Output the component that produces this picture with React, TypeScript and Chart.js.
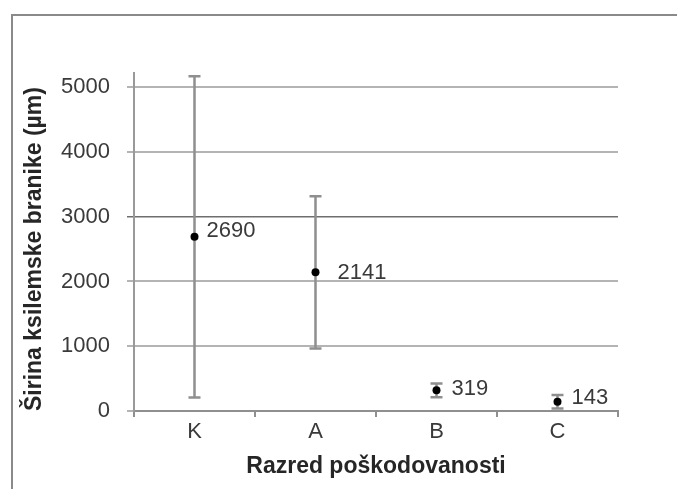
import React, { useEffect, useRef } from 'react';
import { Chart, registerables } from 'chart.js';

Chart.register(...registerables);

const categories = ['K', 'A', 'B', 'C'];
const means = [2690, 2141, 319, 143];
const errors = [2480, 1175, 105, 105];
const yTickValues = [0, 1000, 2000, 3000, 4000, 5000];
const yMax = 5220;
const labelOffsets = [[12, -6], [22, 1], [15, -1], [14, -4]];

const FONT = '"Liberation Sans", Arial, sans-serif';

const errorBarPlugin = {
  id: 'errorBars',
  beforeDatasetsDraw(chart: any) {
    const { ctx } = chart;
    const y = chart.scales.y;
    const meta = chart.getDatasetMeta(0);
    ctx.save();
    ctx.strokeStyle = '#8f8f8f';
    ctx.lineWidth = 2.5;
    meta.data.forEach((pt: any, i: number) => {
      const x = pt.x;
      const top = y.getPixelForValue(means[i] + errors[i]);
      const bot = y.getPixelForValue(means[i] - errors[i]);
      ctx.beginPath();
      ctx.moveTo(x, top);
      ctx.lineTo(x, bot);
      ctx.moveTo(x - 6, top);
      ctx.lineTo(x + 6, top);
      ctx.moveTo(x - 6, bot);
      ctx.lineTo(x + 6, bot);
      ctx.stroke();
    });
    ctx.restore();
  },
};

const dataLabelPlugin = {
  id: 'dataLabels',
  afterDatasetsDraw(chart: any) {
    const { ctx } = chart;
    const meta = chart.getDatasetMeta(0);
    ctx.save();
    ctx.fillStyle = '#3a3a3a';
    ctx.font = `22px ${FONT}`;
    ctx.textAlign = 'left';
    ctx.textBaseline = 'middle';
    meta.data.forEach((pt: any, i: number) => {
      const [dx, dy] = labelOffsets[i];
      ctx.fillText(String(means[i]), pt.x + dx, pt.y + dy);
    });
    ctx.restore();
  },
};

export default function App() {
  const ref = useRef<HTMLCanvasElement | null>(null);

  useEffect(() => {
    if (!ref.current) return;
    const chart = new Chart(ref.current, {
      type: 'line',
      data: {
        labels: categories,
        datasets: [
          {
            data: means,
            showLine: false,
            pointRadius: 4,
            pointBackgroundColor: '#000',
            pointBorderColor: '#000',
            pointBorderWidth: 0,
          },
        ],
      },
      options: {
        animation: false,
        responsive: false,
        devicePixelRatio: 1,
        layout: { padding: { left: 0, top: 73, right: 59, bottom: 0 } },
        plugins: {
          legend: { display: false },
          tooltip: { enabled: false },
        },
        scales: {
          x: {
            type: 'category',
            offset: true,
            grid: {
              offset: true,
              drawOnChartArea: false,
              tickLength: 6,
              color: '#8f8f8f',
              lineWidth: 2,
            },
            border: { color: '#8f8f8f', width: 2 },
            ticks: {
              color: '#3a3a3a',
              font: { family: FONT, size: 22 },
              padding: 2,
            },
            title: {
              display: true,
              text: 'Razred poškodovanosti',
              color: '#262626',
              font: { family: FONT, size: 23, weight: 'bold' },
              padding: { top: 0, bottom: 9 },
            },
            afterFit: (s: any) => {
              s.height = 78;
            },
          },
          y: {
            min: 0,
            max: yMax,
            afterBuildTicks: (axis: any) => {
              axis.ticks = yTickValues.map((v) => ({ value: v }));
            },
            grid: {
              tickLength: 7,
              color: (c: any) => (c.tick && c.tick.value === 3000 ? '#6e6e6e' : '#b4b4b4'),
              lineWidth: (c: any) => (c.tick && c.tick.value === 3000 ? 1.5 : 2),
            },
            border: { color: '#999999', width: 2 },
            ticks: {
              color: '#3a3a3a',
              font: { family: FONT, size: 22 },
              padding: 17,
              callback: (v: any) => String(v),
            },
            title: {
              display: true,
              text: 'Širina ksilemske branike (µm)',
              color: '#262626',
              align: 'start',
              font: { family: FONT, size: 23, weight: 'bold' },
              padding: { top: 21, bottom: 0 },
            },
            afterFit: (s: any) => {
              s.width = 134;
            },
          },
        },
      },
      plugins: [errorBarPlugin, dataLabelPlugin],
    });
    return () => chart.destroy();
  }, []);

  return (
    <div style={{ position: 'absolute', left: 0, top: 0, width: 677, height: 489, background: '#fff', overflow: 'hidden' }}>
      <div
        style={{
          position: 'absolute',
          left: 11,
          top: 14,
          width: 700,
          height: 500,
          borderLeft: '2px solid #8a8a8a',
          borderTop: '2px solid #8a8a8a',
        }}
      />
      <canvas ref={ref} width={677} height={489} style={{ position: 'absolute', left: 0, top: 0 }} />
    </div>
  );
}
